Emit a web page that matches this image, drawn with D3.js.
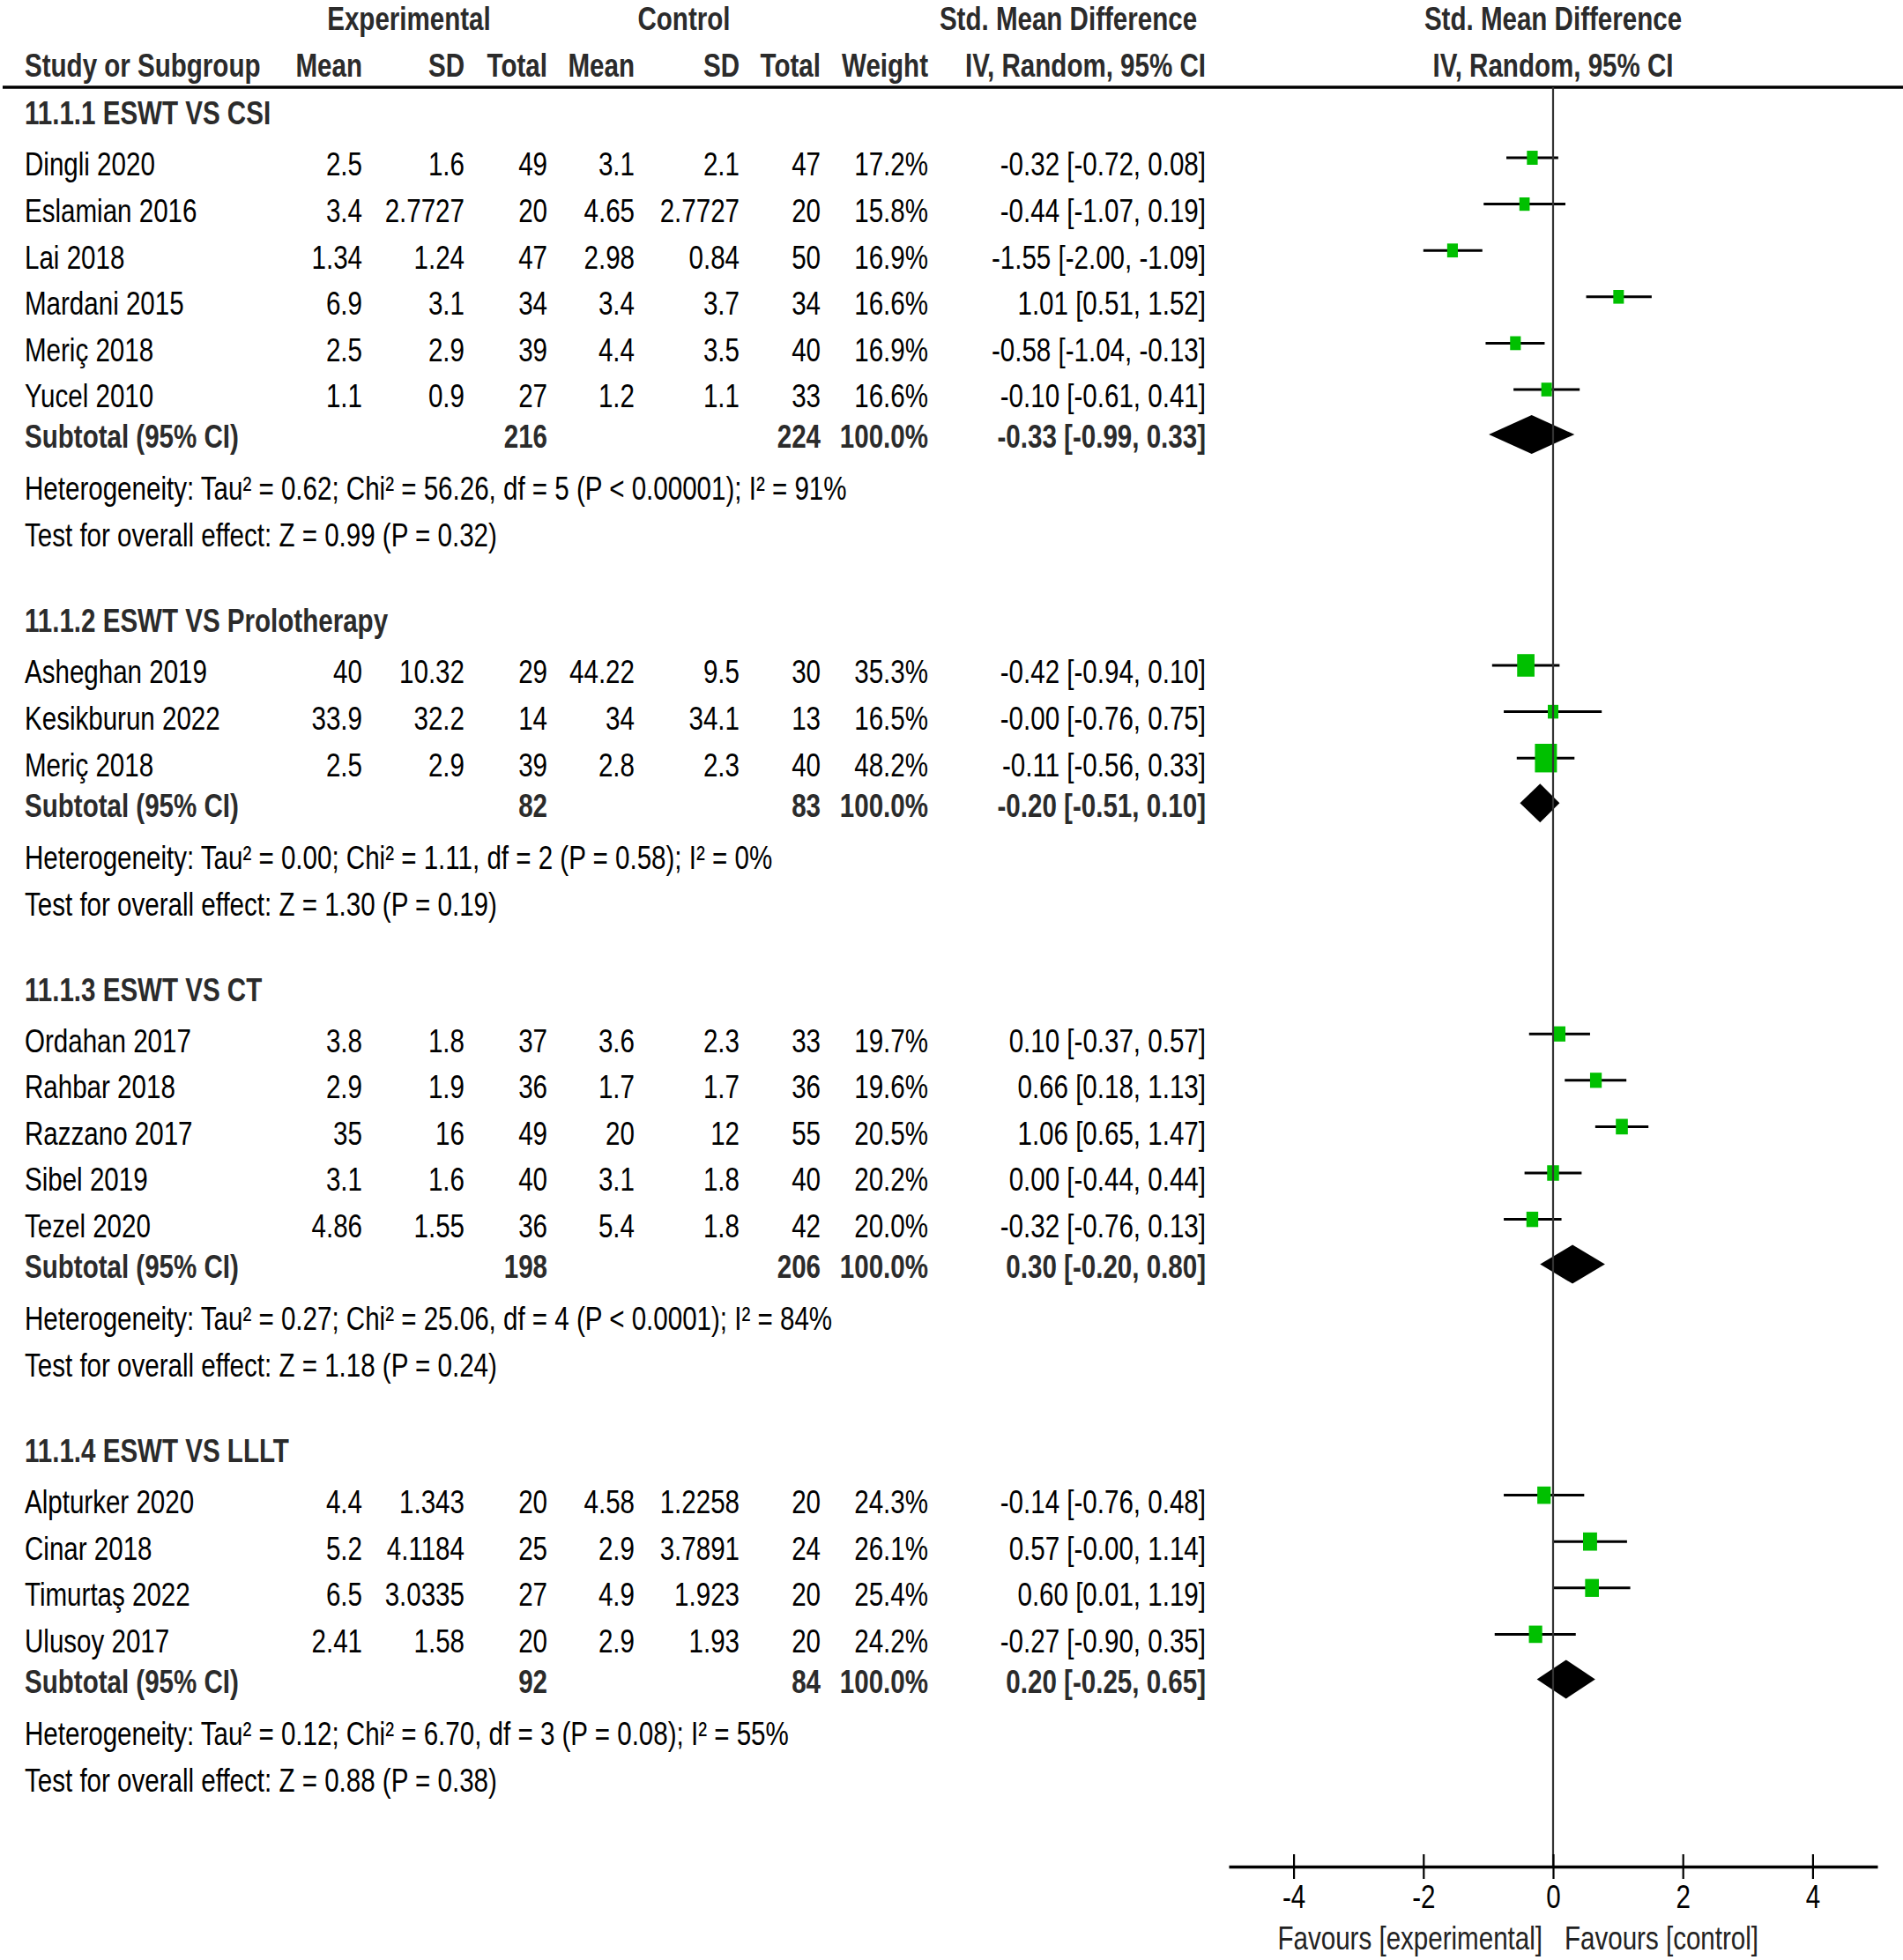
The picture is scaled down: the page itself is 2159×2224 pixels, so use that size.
<!DOCTYPE html>
<html>
<head>
<meta charset="utf-8">
<script src="https://cdn.jsdelivr.net/npm/d3@7/dist/d3.min.js"></script>
<style>
  body { margin: 0; background: #fff; }
  text { font-family: "Liberation Sans", Arial, sans-serif; }
</style>
</head>
<body>
<div id="forest"></div>
<script>
(function () {
  // subgroups
  const subgroupTitles = ["11.1.1 ESWT VS CSI", "11.1.2 ESWT VS Prolotherapy", "11.1.3 ESWT VS CT", "11.1.4 ESWT VS LLLT"];

  // studies
  const studyNames = ["Dingli 2020", "Eslamian 2016", "Lai 2018", "Mardani 2015", "Meriç 2018", "Yucel 2010",
    "Asheghan 2019", "Kesikburun 2022", "Meriç 2018",
    "Ordahan 2017", "Rahbar 2018", "Razzano 2017", "Sibel 2019", "Tezel 2020",
    "Alpturker 2020", "Cinar 2018", "Timurtaş 2022", "Ulusoy 2017"];
  const studyGroup = [0, 0, 0, 0, 0, 0, 1, 1, 1, 2, 2, 2, 2, 2, 3, 3, 3, 3];
  const expMean = [2.5, 3.4, 1.34, 6.9, 2.5, 1.1, 40, 33.9, 2.5, 3.8, 2.9, 35, 3.1, 4.86, 4.4, 5.2, 6.5, 2.41];
  const expSD = [1.6, 2.7727, 1.24, 3.1, 2.9, 0.9, 10.32, 32.2, 2.9, 1.8, 1.9, 16, 1.6, 1.55, 1.343, 4.1184, 3.0335, 1.58];
  const expN = [49, 20, 47, 34, 39, 27, 29, 14, 39, 37, 36, 49, 40, 36, 20, 25, 27, 20];
  const ctlMean = [3.1, 4.65, 2.98, 3.4, 4.4, 1.2, 44.22, 34, 2.8, 3.6, 1.7, 20, 3.1, 5.4, 4.58, 2.9, 4.9, 2.9];
  const ctlSD = [2.1, 2.7727, 0.84, 3.7, 3.5, 1.1, 9.5, 34.1, 2.3, 2.3, 1.7, 12, 1.8, 1.8, 1.2258, 3.7891, 1.923, 1.93];
  const ctlN = [47, 20, 50, 34, 40, 33, 30, 13, 40, 33, 36, 55, 40, 42, 20, 24, 20, 20];
  const weight = [17.2, 15.8, 16.9, 16.6, 16.9, 16.6, 35.3, 16.5, 48.2, 19.7, 19.6, 20.5, 20.2, 20.0, 24.3, 26.1, 25.4, 24.2];
  const smd = [-0.32, -0.44, -1.55, 1.01, -0.58, -0.10, -0.42, -0, -0.11, 0.10, 0.66, 1.06, 0.00, -0.32, -0.14, 0.57, 0.60, -0.27];
  const ciLow = [-0.72, -1.07, -2.00, 0.51, -1.04, -0.61, -0.94, -0.76, -0.56, -0.37, 0.18, 0.65, -0.44, -0.76, -0.76, -0, 0.01, -0.90];
  const ciHigh = [0.08, 0.19, -1.09, 1.52, -0.13, 0.41, 0.10, 0.75, 0.33, 0.57, 1.13, 1.47, 0.44, 0.13, 0.48, 1.14, 1.19, 0.35];

  // subtotals
  const subExpN = [216, 82, 198, 92];
  const subCtlN = [224, 83, 206, 84];
  const subSmd = [-0.33, -0.20, 0.30, 0.20];
  const subLow = [-0.99, -0.51, -0.20, -0.25];
  const subHigh = [0.33, 0.10, 0.80, 0.65];

  // heterogeneity / overall effect
  const hetTau2 = [0.62, 0.00, 0.27, 0.12];
  const hetChi2 = [56.26, 1.11, 25.06, 6.70];
  const hetDf = [5, 2, 4, 3];
  const hetP = ["< 0.00001", "= 0.58", "< 0.0001", "= 0.08"];
  const hetI2 = [91, 0, 84, 55];
  const testZ = [0.99, 1.30, 1.18, 0.88];
  const testP = [0.32, 0.19, 0.24, 0.38];

  // axis
  const axisTicks = [-4, -2, 0, 2, 4];
  const favourLabels = ["Favours [experimental]", "Favours [control]"];

  const W = 2159, H = 2224;
  const fontSize = 37;
  const green = "#00c000";
  const headGray = "#2b2b2b";

  const svg = d3.select('#forest')
    .append('svg')
    .attr('width', W)
    .attr('height', H);

  svg.append('rect').attr('width', W).attr('height', H).attr('fill', '#fff');

  //text is squeezed horizontally like the original
  const probe = svg.append('text').style('font-size', fontSize + 'px')
    .text(hetLine(0));
  const kx = 933 / probe.node().getComputedTextLength();
  probe.remove();

  const shapes = svg.append('g');
  const textG = svg.append('g').attr('transform', `scale(${kx},1)`);

  function label(x, y, str, opts) {
    opts = opts || {};
    return textG.append('text')
      .attr('x', x / kx)
      .attr('y', y + 13.5)
      .attr('text-anchor', opts.anchor || 'start')
      .style('font-size', fontSize + 'px')
      .style('font-weight', opts.bold ? 'bold' : 'normal')
      .attr('fill', opts.bold ? headGray : '#000')
      .text(str);
  }

  function fmt(v) {
    const neg = v < 0 || Object.is(v, -0);
    return (neg ? '-' : '') + Math.abs(v).toFixed(2);
  }
  function ciText(e, l, h) {
    return `${fmt(e)} [${fmt(l)}, ${fmt(h)}]`;
  }
  function hetLine(g) {
    return `Heterogeneity: Tau² = ${hetTau2[g].toFixed(2)}; Chi² = ${hetChi2[g].toFixed(2)}, df = ${hetDf[g]} (P ${hetP[g]}); I² = ${hetI2[g]}%`;
  }

  //column right edges
  const col = {
    name: 28, expMean: 411, expSD: 527, expN: 621, ctlMean: 720, ctlSD: 839, ctlN: 931,
    weight: 1053, ci: 1368
  };

  //header
  label(464, 21, 'Experimental', { anchor: 'middle', bold: true });
  label(776, 21, 'Control', { anchor: 'middle', bold: true });
  label(1212, 21, 'Std. Mean Difference', { anchor: 'middle', bold: true });
  label(1762, 21, 'Std. Mean Difference', { anchor: 'middle', bold: true });
  label(col.name, 74, 'Study or Subgroup', { bold: true });
  label(col.expMean, 74, 'Mean', { anchor: 'end', bold: true });
  label(col.expSD, 74, 'SD', { anchor: 'end', bold: true });
  label(col.expN, 74, 'Total', { anchor: 'end', bold: true });
  label(col.ctlMean, 74, 'Mean', { anchor: 'end', bold: true });
  label(col.ctlSD, 74, 'SD', { anchor: 'end', bold: true });
  label(col.ctlN, 74, 'Total', { anchor: 'end', bold: true });
  label(col.weight, 74, 'Weight', { anchor: 'end', bold: true });
  label(col.ci, 74, 'IV, Random, 95% CI', { anchor: 'end', bold: true });
  label(1762, 74, 'IV, Random, 95% CI', { anchor: 'middle', bold: true });

  shapes.append('line')
    .attr('x1', 3).attr('x2', W).attr('y1', 99).attr('y2', 99)
    .attr('stroke', '#000').attr('stroke-width', 3.5);

  const xScale = d3.scaleLinear().domain([-5, 5]).range([1394, 2130]);
  const sizeScale = d3.scaleLinear().domain([0, 100]).range([5.2, 46.2]);

  //row layout
  const gap = { headStudy: 58, study: 52.6, studySub: 46, subHet: 59, hetTest: 53, testHead: 97 };
  const axisY = 2118;

  let y = 128;
  subgroupTitles.forEach((title, g) => {
    label(col.name, y, title, { bold: true });
    const idx = d3.range(studyNames.length).filter(i => studyGroup[i] === g);
    y += gap.headStudy;
    idx.forEach((i, k) => {
      if (k > 0) y += gap.study;
      label(col.name, y, studyNames[i]);
      label(col.expMean, y, String(expMean[i]), { anchor: 'end' });
      label(col.expSD, y, String(expSD[i]), { anchor: 'end' });
      label(col.expN, y, String(expN[i]), { anchor: 'end' });
      label(col.ctlMean, y, String(ctlMean[i]), { anchor: 'end' });
      label(col.ctlSD, y, String(ctlSD[i]), { anchor: 'end' });
      label(col.ctlN, y, String(ctlN[i]), { anchor: 'end' });
      label(col.weight, y, weight[i].toFixed(1) + '%', { anchor: 'end' });
      label(col.ci, y, ciText(smd[i], ciLow[i], ciHigh[i]), { anchor: 'end' });

      const my = y - 7;
      shapes.append('line')
        .attr('x1', xScale(ciLow[i])).attr('x2', xScale(ciHigh[i]))
        .attr('y1', my).attr('y2', my)
        .attr('stroke', '#000').attr('stroke-width', 3);
      const bw = sizeScale(weight[i]), bh = bw * 1.3;
      shapes.append('rect')
        .attr('x', xScale(smd[i]) - bw / 2).attr('y', my - bh / 2)
        .attr('width', bw).attr('height', bh)
        .attr('fill', green);
    });

    y += gap.studySub;
    label(col.name, y, 'Subtotal (95% CI)', { bold: true });
    label(col.expN, y, String(subExpN[g]), { anchor: 'end', bold: true });
    label(col.ctlN, y, String(subCtlN[g]), { anchor: 'end', bold: true });
    label(col.weight, y, '100.0%', { anchor: 'end', bold: true });
    label(col.ci, y, ciText(subSmd[g], subLow[g], subHigh[g]), { anchor: 'end', bold: true });
    const dy = y - 2;
    shapes.append('path')
      .attr('d', `M${xScale(subLow[g])},${dy} L${xScale(subSmd[g])},${dy - 22} L${xScale(subHigh[g])},${dy} L${xScale(subSmd[g])},${dy + 22} Z`)
      .attr('fill', '#000');

    y += gap.subHet;
    label(col.name, y, hetLine(g));
    y += gap.hetTest;
    label(col.name, y, `Test for overall effect: Z = ${testZ[g].toFixed(2)} (P = ${testP[g].toFixed(2)})`);
    y += gap.testHead;
  });

  //line of no effect
  shapes.append('line')
    .attr('x1', xScale(0)).attr('x2', xScale(0))
    .attr('y1', 99).attr('y2', axisY)
    .attr('stroke', '#333').attr('stroke-width', 2.2);

  //x axis
  const xAxis = d3.axisBottom(xScale)
    .tickValues(axisTicks)
    .tickSize(14)
    .tickSizeOuter(0)
    .tickPadding(7)
    .tickFormat(d3.format('d'));

  const axisG = svg.append('g')
    .attr('transform', `translate(0, ${axisY})`)
    .call(xAxis);

  axisG.select('.domain').attr('stroke', '#000').attr('stroke-width', 3.5);
  axisG.selectAll('.tick line').attr('y1', -14).attr('stroke', '#000').attr('stroke-width', 2.2);
  axisG.selectAll('.tick text')
    .attr('transform', `scale(${kx},1)`)
    .attr('fill', '#000')
    .style('font-size', fontSize + 'px')
    .style('font-family', '"Liberation Sans", Arial, sans-serif')
    .text(d => d < 0 ? '-' + Math.abs(d) : String(d));

  label(1750, 2199, favourLabels[0], { anchor: 'end' }).attr('fill', '#222');
  label(1775, 2199, favourLabels[1]).attr('fill', '#222');
})();
</script>
</body>
</html>
